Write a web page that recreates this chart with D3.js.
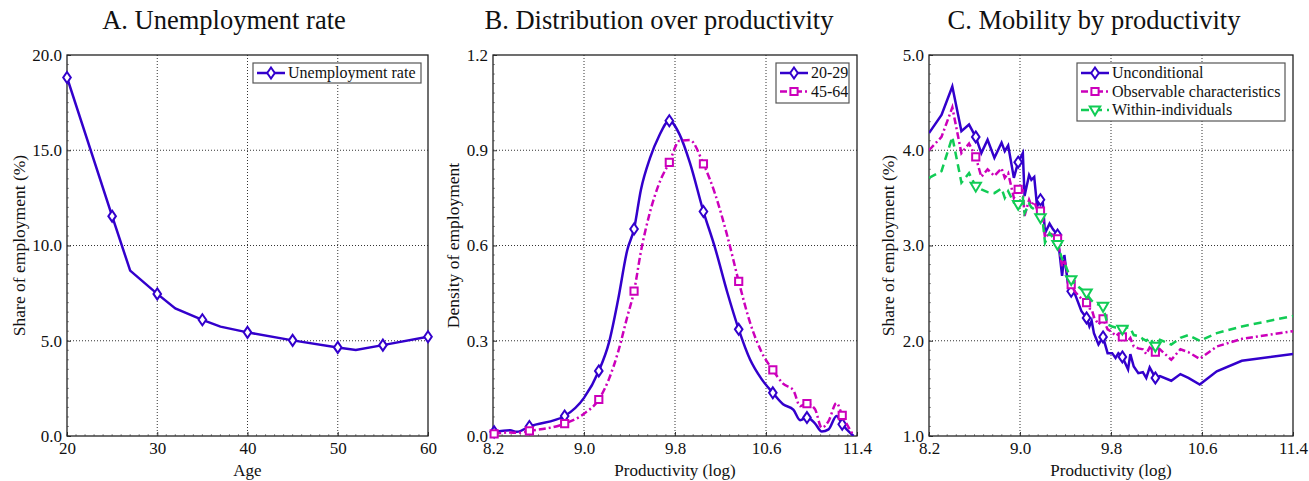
<!DOCTYPE html>
<html>
<head>
<meta charset="utf-8">
<script src="https://cdn.jsdelivr.net/npm/d3@7"></script>
<style>
  body { margin: 0; background: #fff; }
  text { font-family: "Liberation Serif", "DejaVu Serif", serif; fill: #111; }
</style>
</head>
<body>
<div id="chart"></div>
<script>
// Panel A: unemployment rate by age
var ageX = [20, 25, 27, 30, 32, 35, 37, 40, 45, 50, 52, 55, 60];
var unempRate = [18.82, 11.54, 8.68, 7.46, 6.7, 6.1, 5.74, 5.44, 5.02, 4.65, 4.51, 4.77, 5.21];
var unempMarkers = [0, 1, 3, 5, 7, 8, 9, 11, 12];

// Panel B: density over productivity (log)
var prodX = [8.21, 8.35, 8.41, 8.52, 8.83, 9.0, 9.13, 9.22, 9.3, 9.38, 9.44, 9.5, 9.58, 9.66, 9.75,
  9.84, 9.93, 10.05, 10.15, 10.26, 10.36, 10.46, 10.56, 10.66, 10.75, 10.84, 10.9, 10.96, 11.03,
  11.09, 11.15, 11.22, 11.27, 11.37];
var dens2029 = [0.013, 0.018, 0.013, 0.030, 0.063, 0.120, 0.205, 0.295, 0.430, 0.585, 0.652, 0.775,
  0.875, 0.945, 0.993, 0.950, 0.862, 0.707, 0.595, 0.452, 0.336, 0.241, 0.180, 0.136, 0.100, 0.083,
  0.050, 0.058, 0.040, 0.014, 0.021, 0.063, 0.037, 0.0];
var dens4564 = [0.007, 0.011, 0.010, 0.016, 0.039, 0.070, 0.115, 0.180, 0.265, 0.375, 0.456, 0.580,
  0.705, 0.795, 0.862, 0.930, 0.932, 0.857, 0.765, 0.630, 0.487, 0.357, 0.265, 0.208, 0.165, 0.144,
  0.094, 0.102, 0.085, 0.026, 0.047, 0.104, 0.065, 0.001];
var densMarkers = [0, 3, 4, 6, 10, 14, 17, 20, 23, 27, 32];

// Panel C: mobility by productivity
var mobX = [8.2, 8.31, 8.405, 8.485, 8.552, 8.611, 8.66, 8.715, 8.775, 8.838, 8.866, 8.896, 8.946,
  8.984, 9.025, 9.04, 9.08, 9.1, 9.125, 9.15, 9.18, 9.2, 9.22, 9.26, 9.29, 9.33, 9.37, 9.39, 9.42,
  9.45, 9.48, 9.54, 9.585, 9.61, 9.63, 9.65, 9.69, 9.73, 9.77, 9.81, 9.84, 9.865, 9.9, 9.95, 9.97,
  10.0, 10.04, 10.08, 10.11, 10.14, 10.19, 10.23, 10.33, 10.41, 10.48, 10.58, 10.73, 10.95, 11.4];
var mobUncond = [4.18, 4.37, 4.67, 4.20, 4.27, 4.14, 3.97, 4.11, 3.92, 4.08, 3.99, 4.05, 3.71, 3.875,
  3.97, 3.52, 3.74, 3.69, 3.72, 3.41, 3.48, 3.46, 3.13, 3.23, 3.17, 3.11, 2.68, 2.90, 2.61, 2.52,
  2.50, 2.31, 2.24, 2.15, 2.21, 2.08, 1.96, 2.04, 1.87, 1.87, 1.82, 1.87, 1.83, 1.70, 1.86, 1.73,
  1.66, 1.67, 1.61, 1.72, 1.61, 1.63, 1.58, 1.65, 1.61, 1.54, 1.68, 1.79, 1.86];
var mobObs = [4.00, 4.14, 4.45, 3.97, 4.07, 3.93, 3.72, 3.80, 3.73, 3.81, 3.71, 3.76, 3.50, 3.59,
  3.58, 3.31, 3.48, 3.42, 3.46, 3.38, 3.36, 3.31, 3.08, 3.13, 3.11, 3.07, 2.78, 2.85, 2.69, 2.59,
  2.52, 2.44, 2.40, 2.34, 2.33, 2.25, 2.17, 2.23, 2.12, 2.09, 2.05, 2.07, 2.04, 2.00, 2.03, 1.94,
  1.92, 1.91, 1.86, 1.93, 1.88, 1.91, 1.80, 1.91, 1.88, 1.81, 1.94, 2.02, 2.10];
var mobWithin = [3.71, 3.78, 4.14, 3.66, 3.76, 3.62, 3.59, 3.56, 3.55, 3.60, 3.50, 3.57, 3.45, 3.43,
  3.50, 3.34, 3.44, 3.40, 3.38, 3.33, 3.29, 3.25, 3.03, 3.13, 3.08, 3.01, 2.86, 2.82, 2.73, 2.64,
  2.60, 2.54, 2.50, 2.45, 2.42, 2.40, 2.38, 2.36, 2.17, 2.15, 2.14, 2.14, 2.12, 2.14, 2.13, 2.06,
  2.05, 2.02, 2.00, 2.03, 1.94, 2.01, 1.96, 2.03, 2.06, 2.00, 2.08, 2.15, 2.26];
var mobMarkers = [5, 13, 20, 25, 29, 32, 37, 42, 50];

var prodTicks = [8.2, 9.0, 9.8, 10.6, 11.4];

var blue = "#3300cc", magenta = "#cc00bb", green = "#11cc55";

var svgWidth = 1309, svgHeight = 481;
var svg = d3.select("#chart").append("svg")
  .attr("width", svgWidth)
  .attr("height", svgHeight);

var panels = [
  {
    title: "A. Unemployment rate", titleX: 224,
    left: 67, right: 428, xLabel: "Age", yLabel: "Share of employment (%)", yLabelX: 19,
    xDomain: [20, 60], xTicks: [20, 30, 40, 50, 60], xFmt: d3.format("d"),
    yDomain: [0, 20], yTicks: [0, 5, 10, 15, 20], yFmt: d3.format(".1f"),
    curve: d3.curveLinear,
    series: [
      { name: "Unemployment rate", x: ageX, y: unempRate, color: blue, dash: null, marker: "diamond", idx: unempMarkers }
    ],
    legend: { x: 253, y: 63, w: 168, h: 20 }
  },
  {
    title: "B. Distribution over productivity", titleX: 659,
    left: 493, right: 857, xLabel: "Productivity (log)", yLabel: "Density of employment", yLabelX: 453,
    xDomain: [8.2, 11.4], xTicks: prodTicks, xFmt: d3.format(".1f"),
    yDomain: [0, 1.2], yTicks: [0, 0.3, 0.6, 0.9, 1.2], yFmt: d3.format(".1f"),
    curve: d3.curveMonotoneX,
    series: [
      { name: "20-29", x: prodX, y: dens2029, color: blue, dash: null, marker: "diamond", idx: densMarkers },
      { name: "45-64", x: prodX, y: dens4564, color: magenta, dash: "7,3,2,3", marker: "square", idx: densMarkers }
    ],
    legend: { x: 776, y: 63, w: 73, h: 40 }
  },
  {
    title: "C. Mobility by productivity", titleX: 1094,
    left: 929, right: 1293, xLabel: "Productivity (log)", yLabel: "Share of employment (%)", yLabelX: 888,
    xDomain: [8.2, 11.4], xTicks: prodTicks, xFmt: d3.format(".1f"),
    yDomain: [1, 5], yTicks: [1, 2, 3, 4, 5], yFmt: d3.format(".1f"),
    curve: d3.curveLinear,
    series: [
      { name: "Unconditional", x: mobX, y: mobUncond, color: blue, dash: null, marker: "diamond", idx: mobMarkers },
      { name: "Observable characteristics", x: mobX, y: mobObs, color: magenta, dash: "7,3,2,3", marker: "square", idx: mobMarkers },
      { name: "Within-individuals", x: mobX, y: mobWithin, color: green, dash: "8,5", marker: "triangle", idx: mobMarkers }
    ],
    legend: { x: 1077, y: 63, w: 208, h: 58 }
  }
];

var plotTop = 55, plotBottom = 436;

// marker shapes drawn as paths centred on 0,0
function markerPath(type) {
  if (type === "diamond") return "M0,-5.5L3.8,0L0,5.5L-3.8,0Z";
  if (type === "square") return "M-3.6,-3.6H3.6V3.6H-3.6Z";
  return "M-5.2,-3.6H5.2L0,5.2Z";
}

panels.forEach(function (p) {
  var x = d3.scaleLinear().domain(p.xDomain).range([p.left, p.right]);
  var y = d3.scaleLinear().domain(p.yDomain).range([plotBottom, plotTop]);
  var g = svg.append("g");

  // grid
  g.selectAll(".vgrid").data(p.xTicks.slice(1, -1)).enter().append("line")
    .attr("x1", (d) => x(d)).attr("x2", (d) => x(d))
    .attr("y1", plotTop).attr("y2", plotBottom)
    .attr("stroke", "#333").attr("stroke-width", 1).attr("stroke-dasharray", "1,2");
  g.selectAll(".hgrid").data(p.yTicks.slice(1, -1)).enter().append("line")
    .attr("x1", p.left).attr("x2", p.right)
    .attr("y1", (d) => y(d)).attr("y2", (d) => y(d))
    .attr("stroke", "#333").attr("stroke-width", 1).attr("stroke-dasharray", "1,2");

  // axes (ticks inward, labels outside)
  var xAxis = g.append("g").attr("transform", `translate(0,${plotBottom})`)
    .call(d3.axisBottom(x).tickValues(p.xTicks).tickFormat(p.xFmt).tickSizeInner(-4).tickSizeOuter(0).tickPadding(5));
  var yAxis = g.append("g").attr("transform", `translate(${p.left},0)`)
    .call(d3.axisLeft(y).tickValues(p.yTicks).tickFormat(p.yFmt).tickSizeInner(-4).tickSizeOuter(0).tickPadding(5));
  [xAxis, yAxis].forEach(function (a) {
    a.select(".domain").remove();
    a.selectAll("text").style("font-size", "17px").style("font-family", "Liberation Serif").attr("fill", "#222");
    a.selectAll("line").attr("stroke", "#333");
  });
  xAxis.selectAll("text").attr("dy", "0.75em");

  // minor ticks give the frame its grey, hatched look
  var xMinor = d3.range(0, 41).map((i) => p.xDomain[0] + (p.xDomain[1] - p.xDomain[0]) * i / 40);
  var yMinor = d3.range(0, 41).map((i) => p.yDomain[0] + (p.yDomain[1] - p.yDomain[0]) * i / 40);
  g.selectAll(".xm").data(xMinor).enter().append("line")
    .attr("x1", (d) => x(d)).attr("x2", (d) => x(d)).attr("y1", plotBottom).attr("y2", plotBottom - 2)
    .attr("stroke", "#777").attr("stroke-width", 0.8);
  g.selectAll(".ym").data(yMinor).enter().append("line")
    .attr("x1", p.left).attr("x2", p.left + 2).attr("y1", (d) => y(d)).attr("y2", (d) => y(d))
    .attr("stroke", "#777").attr("stroke-width", 0.8);

  g.append("rect")
    .attr("x", p.left).attr("y", plotTop)
    .attr("width", p.right - p.left).attr("height", plotBottom - plotTop)
    .attr("fill", "none").attr("stroke", "#222").attr("stroke-width", 1.3);

  // series
  var clip = "clip-" + p.left;
  svg.append("clipPath").attr("id", clip).append("rect")
    .attr("x", p.left).attr("y", plotTop - 10).attr("width", p.right - p.left).attr("height", plotBottom - plotTop + 10);

  p.series.forEach(function (s) {
    var pts = s.x.map((v, i) => [v, s.y[i]]);
    var line = d3.line().x((d) => x(d[0])).y((d) => y(d[1])).curve(p.curve);
    g.append("path").datum(pts)
      .attr("clip-path", `url(#${clip})`)
      .attr("d", line)
      .attr("fill", "none")
      .attr("stroke", s.color)
      .attr("stroke-width", 2.5)
      .attr("stroke-linejoin", "miter")
      .attr("stroke-dasharray", s.dash);
    g.selectAll(null).data(s.idx).enter().append("path")
      .attr("d", markerPath(s.marker))
      .attr("transform", (i) => `translate(${x(s.x[i])},${y(s.y[i])})`)
      .attr("fill", "#fff")
      .attr("stroke", s.color)
      .attr("stroke-width", 2);
  });

  // legend
  var lg = g.append("g");
  lg.append("rect")
    .attr("x", p.legend.x).attr("y", p.legend.y)
    .attr("width", p.legend.w).attr("height", p.legend.h)
    .attr("fill", "#fff").attr("stroke", "#555").attr("stroke-width", 1.2);
  p.series.forEach(function (s, i) {
    var ly = p.legend.y + 10 + i * 18.5;
    var lx = p.legend.x + 4;
    lg.append("line")
      .attr("x1", lx).attr("x2", lx + 28).attr("y1", ly).attr("y2", ly)
      .attr("stroke", s.color).attr("stroke-width", 2.5).attr("stroke-dasharray", s.dash);
    lg.append("path")
      .attr("d", markerPath(s.marker))
      .attr("transform", `translate(${lx + 14},${ly})`)
      .attr("fill", "#fff").attr("stroke", s.color).attr("stroke-width", 2);
    lg.append("text")
      .attr("x", lx + 31).attr("y", ly).attr("dy", "0.33em")
      .style("font-size", "16px")
      .text(s.name);
  });

  // titles and labels
  g.append("text")
    .attr("x", p.titleX).attr("y", 29)
    .attr("text-anchor", "middle")
    .style("font-size", "26.5px")
    .text(p.title);
  g.append("text")
    .attr("x", (p.left + p.right) / 2).attr("y", 476)
    .attr("text-anchor", "middle")
    .style("font-size", "17px")
    .text(p.xLabel);
  g.append("text")
    .attr("transform", `translate(${p.yLabelX},${(plotTop + plotBottom) / 2}) rotate(-90)`)
    .attr("text-anchor", "middle")
    .attr("dy", "0.35em")
    .style("font-size", "17.5px")
    .text(p.yLabel);
});
</script>
</body>
</html>
